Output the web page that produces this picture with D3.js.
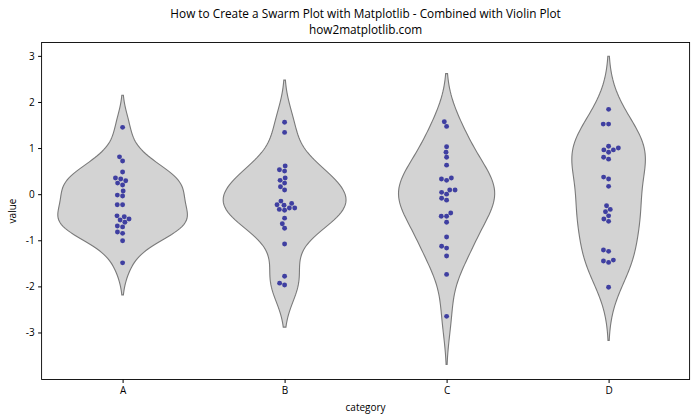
<!DOCTYPE html>
<html>
<head>
<meta charset="utf-8">
<script src="https://cdn.jsdelivr.net/npm/d3@7"></script>
<style>
  body { margin: 0; background: #fff; }
  svg { display: block; }
  text { font-family: "Open Sans", "Noto Sans", "DejaVu Sans", sans-serif; fill: #000; }
</style>
</head>
<body>
<svg id="chart" width="700" height="420"></svg>
<script>
const categories = ["A", "B", "C", "D"];
const groupA = [1.45, 0.81, 0.72, 0.48, 0.35, 0.33, 0.29, 0.24, 0.20, 0.07, -0.02, -0.04, -0.23, -0.23,
  -0.47, -0.49, -0.54, -0.56, -0.61, -0.69, -0.71, -0.82, -0.85, -1.01, -1.49];
const groupB = [1.56, 1.34, 0.61, 0.53, 0.50, 0.35, 0.30, 0.24, 0.16, 0.09, -0.15, -0.20, -0.23, -0.24,
  -0.30, -0.30, -0.33, -0.35, -0.52, -0.64, -0.74, -1.08, -1.78, -1.93, -1.97];
const groupC = [1.57, 1.47, 1.03, 0.91, 0.80, 0.63, 0.35, 0.33, 0.30, 0.09, 0.09, 0.04, 0.00, -0.09,
  -0.13, -0.41, -0.48, -0.48, -0.61, -0.93, -1.13, -1.17, -1.34, -1.74, -2.65];
const groupD = [1.84, 1.52, 1.52, 1.04, 1.00, 0.96, 0.96, 0.91, 0.80, 0.76, 0.37, 0.33, 0.17, -0.25,
  -0.33, -0.38, -0.47, -0.54, -0.59, -1.21, -1.24, -1.43, -1.45, -1.48, -2.02];
const groups = [groupA, groupB, groupC, groupD];
const yTicks = [-3, -2, -1, 0, 1, 2, 3];
const titleLines = ["How to Create a Swarm Plot with Matplotlib - Combined with Violin Plot", "how2matplotlib.com"];

const svg = d3.select("#chart");
const mLeft = 41.6, mRight = 689.6, mTop = 42.5, mBottom = 379.5;

const x = d3.scalePoint().domain(categories).range([mLeft, mRight]).padding(0.5);
const y = d3.scaleLinear().domain([-4.02, 3.29]).range([mBottom, mTop]);
const step = x.step();

// KDE (gaussian, Scott's rule), seaborn-like cut=2, gridsize=100
function kde(data) {
  const n = data.length;
  const sd = d3.deviation(data);
  const bw = sd * Math.pow(n, -0.2);
  const lo = d3.min(data) - 2 * bw, hi = d3.max(data) + 2 * bw;
  const grid = d3.range(100).map(i => lo + (hi - lo) * i / 99);
  return grid.map(g => {
    let s = 0;
    for (const v of data) { const z = (g - v) / bw; s += Math.exp(-0.5 * z * z); }
    return [g, s / (n * bw * Math.sqrt(2 * Math.PI))];
  });
}
const densities = groups.map(kde);
const maxD = d3.max(densities, d => d3.max(d, p => p[1]));
const halfW = 0.8 * step / 2;

const gV = svg.append("g");
densities.forEach((dens, i) => {
  const cx = x(categories[i]);
  const area = d3.area()
    .y(p => y(p[0]))
    .x0(p => cx - p[1] / maxD * halfW)
    .x1(p => cx + p[1] / maxD * halfW);
  gV.append("path").attr("d", area(dens))
    .attr("fill", "#d3d3d3").attr("stroke", "#7a7a7a").attr("stroke-width", 1.1);
});

// Beeswarm (seaborn algorithm)
const r = 2.55;
function swarm(vals, cx) {
  const sorted = vals.slice().sort((a, b) => a - b);
  const placed = [];
  sorted.forEach(v => {
    const yi = y(v);
    const neighbors = [];
    for (let j = placed.length - 1; j >= 0; j--) {
      if (Math.abs(yi - placed[j].y) < 2 * r) neighbors.push(placed[j]); else break;
    }
    const cands = [cx];
    let leftFirst = true;
    neighbors.forEach(nb => {
      const dy = yi - nb.y;
      const dx = Math.sqrt(Math.max(4 * r * r - dy * dy, 0)) * 1.05;
      if (leftFirst) { cands.push(nb.x - dx, nb.x + dx); } else { cands.push(nb.x + dx, nb.x - dx); }
      leftFirst = !leftFirst;
    });
    const order = cands.map((c, k) => [c, k]).sort((a, b) => (Math.abs(a[0] - cx) - Math.abs(b[0] - cx)) || (a[1] - b[1]));
    let chosen = order[0][0];
    for (const [c] of order) {
      const ok = neighbors.every(nb => ((c - nb.x) ** 2 + (yi - nb.y) ** 2) >= 4 * r * r - 1e-6);
      if (ok) { chosen = c; break; }
    }
    placed.push({ x: chosen, y: yi });
  });
  return placed;
}

const gP = svg.append("g");
groups.forEach((vals, i) => {
  const pts = swarm(vals, x(categories[i]));
  gP.selectAll(null).data(pts).enter().append("circle")
    .attr("cx", d => d.x).attr("cy", d => d.y).attr("r", 2.45)
    .attr("fill", "darkblue").attr("fill-opacity", 0.7);
});

// Axes
const xAxis = d3.axisBottom(x).tickSize(3.5).tickPadding(3.5);
const gx = svg.append("g").attr("transform", `translate(0,${mBottom})`).call(xAxis);
gx.select(".domain").remove();
gx.selectAll("text").attr("font-size", "10px");

const yAxis = d3.axisLeft(y).tickValues(yTicks).tickFormat(d3.format("d")).tickSize(3.5).tickPadding(3.5);
const gy = svg.append("g").attr("transform", `translate(${mLeft},0)`).call(yAxis);
gy.select(".domain").remove();
gy.selectAll("text").attr("font-size", "10px").text(d => d < 0 ? "-" + Math.abs(d) : d);

svg.append("rect").attr("x", mLeft).attr("y", mTop).attr("width", mRight - mLeft).attr("height", mBottom - mTop)
  .attr("fill", "none").attr("stroke", "#000").attr("stroke-width", 0.9);

svg.append("text").attr("x", (mLeft + mRight) / 2).attr("y", 411).attr("text-anchor", "middle")
  .attr("font-size", "10px").text("category");
svg.append("text").attr("transform", `translate(16,${(mTop + mBottom) / 2}) rotate(-90)`).attr("text-anchor", "middle")
  .attr("font-size", "10px").text("value");

titleLines.forEach((t, i) => {
  svg.append("text").attr("x", (mLeft + mRight) / 2).attr("y", 18 + i * 16).attr("text-anchor", "middle")
    .attr("font-size", "11.8px").text(t);
});
</script>
</body>
</html>
